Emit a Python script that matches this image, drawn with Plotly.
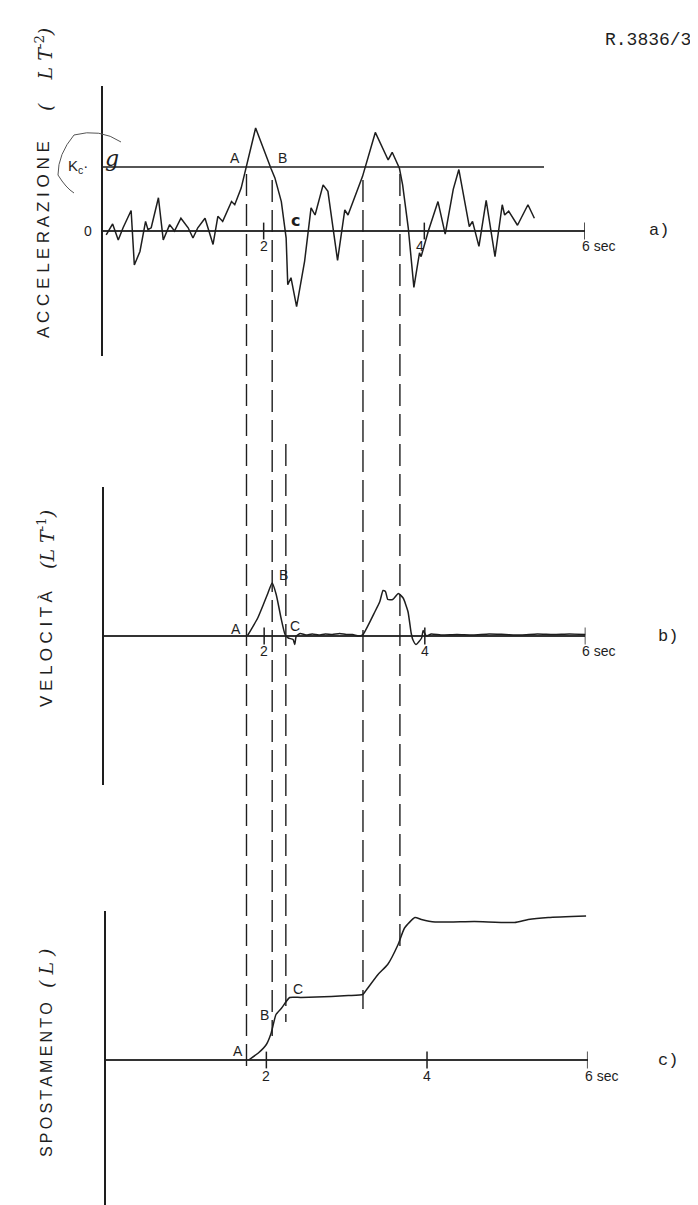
import plotly.graph_objects as go

W, H = 698, 1205

# ---------------- data ----------------
# a) acceleration (units of Kc*g)
t_acc = [0.04, 0.12, 0.19, 0.25, 0.35, 0.39, 0.46, 0.53, 0.56, 0.60,
         0.69, 0.75, 0.83, 0.89, 0.97, 1.06, 1.12, 1.18, 1.27, 1.37,
         1.43, 1.49, 1.60, 1.64, 1.72, 1.78, 1.90, 2.09, 2.14, 2.22,
         2.28, 2.30, 2.34, 2.41, 2.51, 2.59, 2.64, 2.74, 2.80, 2.92,
         3.01, 3.05, 3.13, 3.23, 3.39, 3.55, 3.60, 3.69, 3.73, 3.80,
         3.87, 3.94, 3.96, 4.05, 4.17, 4.26, 4.36, 4.43, 4.56, 4.60,
         4.68, 4.77, 4.88, 4.97, 5.00, 5.05, 5.16, 5.29, 5.37]
acc = [-0.06, 0.11, -0.14, 0.05, 0.32, -0.53, -0.32, 0.15, 0.02, 0.05,
       0.52, -0.14, 0.10, 0.00, 0.20, 0.05, -0.11, 0.05, 0.20, -0.21,
       0.23, 0.15, 0.46, 0.41, 0.67, 1.00, 1.61, 0.98, 0.83, 0.46,
       -0.11, -0.84, -0.73, -1.18, -0.47, 0.36, 0.25, 0.72, 0.62, -0.46,
       0.33, 0.25, 0.52, 0.85, 1.54, 1.11, 1.23, 0.98, 0.72, 0.05,
       -0.88, -0.34, -0.40, 0.00, 0.46, -0.05, 0.65, 0.96, 0.07, 0.15,
       -0.24, 0.48, -0.40, 0.41, 0.25, 0.31, 0.09, 0.41, 0.20]
kc_level = 1.0
kc_end = 5.49

# b) velocity
t_vel = [1.79, 1.92, 1.99, 2.04, 2.10, 2.15, 2.21, 2.26, 2.30, 2.36,
         2.38, 2.40, 2.45, 2.52, 2.60, 2.68, 2.76, 2.85, 2.94, 3.02,
         3.10, 3.18, 3.23, 3.38, 3.44, 3.48, 3.51, 3.54, 3.60, 3.67,
         3.73, 3.79, 3.83, 3.85, 3.89, 3.96, 3.98, 4.02, 4.08, 4.20,
         4.40, 4.60, 4.80, 5.00, 5.20, 5.40, 5.60, 5.80, 6.00]
vel = [0.00, 0.36, 0.63, 0.83, 1.06, 0.83, 0.36, 0.03, -0.04, -0.07,
       -0.17, 0.00, 0.05, 0.02, 0.04, 0.02, 0.04, 0.03, 0.05, 0.03,
       0.03, 0.00, 0.03, 0.49, 0.69, 0.91, 0.89, 0.73, 0.73, 0.85,
       0.76, 0.49, 0.06, -0.07, -0.17, -0.04, 0.11, 0.00, 0.04, 0.02,
       0.03, 0.02, 0.04, 0.03, 0.02, 0.04, 0.03, 0.04, 0.03]

# c) displacement
t_dis = [1.78, 1.90, 2.00, 2.06, 2.12, 2.19, 2.29, 2.43, 2.81, 3.02,
         3.20, 3.24, 3.39, 3.51, 3.64, 3.72, 3.85, 3.93, 4.10, 4.59,
         5.09, 5.26, 5.51, 5.98]
dis = [0.00, 0.14, 0.31, 0.54, 0.91, 1.04, 1.25, 1.25, 1.27, 1.29,
       1.31, 1.39, 1.71, 1.91, 2.31, 2.64, 2.85, 2.81, 2.76, 2.77,
       2.75, 2.81, 2.85, 2.88]

tick_vals = [2, 4, 6]
tick_text = ["2", "4", "6 sec"]
event_names = ["A", "B", "C", "A", "B"]
event_times = [1.78, 2.10, 2.27, 3.23, 3.69]

# ---------------- layout helpers ----------------
def px(x):
    return x / W

def py(y):
    return 1 - y / H

INK = "#1e1e1e"
fig = go.Figure()

panels = [
    # (xaxis, yaxis, left px, top px, bottom px, zero px, unit px)
    ("x", "y", 95.0, 78, 348, 223, 64.0),
    ("x2", "y2", 95.5, 479, 777, 628, 50.0),
    ("x3", "y3", 97.7, 903, 1200, 1052, 50.0),
]
series = [(t_acc, acc), (t_vel, vel), (t_dis, dis)]
shapes_lines = ["linear", "spline", "spline"]

pxs = 80.33  # pixels per second
for i, ((xa, ya, left, top, bot, zero, unit), (tt, vv)) in enumerate(zip(panels, series)):
    sfx = "" if i == 0 else str(i + 1)
    fig.add_trace(go.Scatter(x=tt, y=vv, xaxis=xa, yaxis=ya, mode="lines",
                             line=dict(color=INK, width=1.5, shape=shapes_lines[i],
                                       smoothing=0.5),
                             showlegend=False, hoverinfo="skip"))
    # tick marks on the time axis
    fig.add_trace(go.Scatter(x=tick_vals, y=[0] * len(tick_vals), xaxis=xa, yaxis=ya,
                             mode="markers",
                             marker=dict(symbol="line-ns", size=12,
                                         line=dict(color=INK, width=1.5)),
                             showlegend=False, hoverinfo="skip"))
    fig.layout["xaxis" + sfx] = dict(domain=[px(left), px(left + 6 * pxs)], range=[0, 6],
                                     visible=False, anchor=ya, fixedrange=True)
    fig.layout["yaxis" + sfx] = dict(domain=[py(bot), py(top)],
                                     range=[-(bot - zero) / unit, (zero - top) / unit],
                                     showline=True, linecolor=INK, linewidth=1.5,
                                     showticklabels=False, ticks="", showgrid=False,
                                     zeroline=True, zerolinecolor="#333", zerolinewidth=1.8,
                                     anchor=xa, fixedrange=True)
    # tick labels
    ylab = {0: 238, 1: 643, 2: 1068}[i]
    for tv, tl in zip(tick_vals, tick_text):
        is6 = tl.startswith("6")
        fig.add_annotation(x=tv, xref=xa, y=py(ylab), yref="paper", text=tl,
                           showarrow=False, xanchor="left" if is6 else "center",
                           yanchor="middle",
                           xshift=-5 if is6 else (-4 if (i == 0 and tv == 4) else 0),
                           font=dict(family="Liberation Sans", size=14, color=INK))

# Kc*g threshold line
fig.add_trace(go.Scatter(x=[0, kc_end], y=[kc_level, kc_level], xaxis="x", yaxis="y",
                         mode="lines", line=dict(color=INK, width=1.4),
                         showlegend=False, hoverinfo="skip"))

# dashed construction lines
dash_extent = [(166, 1066), (172, 1028), (436, 1014), (172, 1001), (166, 946)]
for tv, (y0, y1) in zip(event_times, dash_extent):
    fig.add_shape(type="line", xref="x2", yref="paper", x0=tv, x1=tv,
                  y0=py(y0), y1=py(y1), line=dict(color=INK, width=1.4, dash="22px,8px"))

# panel tags and other text
def txt(x, y, s, size=14, family="Liberation Sans", angle=0, **kw):
    fig.add_annotation(x=px(x), y=py(y), xref="paper", yref="paper", text=s,
                       showarrow=False, textangle=angle, xanchor="center", yanchor="middle",
                       font=dict(family=family, size=size, color=INK), **kw)

# point labels A B C in each panel
label_pos = [
    [(227, 150), (274, 150), (287, 212)],
    [(228, 621), (275, 567), (287, 618)],
    [(230, 1043), (256, 1007), (290, 981)],
]
for pi, row in enumerate(label_pos):
    for name, (lx, ly) in zip(["A", "B", "C"], row):
        if pi == 0 and name == "C":
            txt(lx, ly, "<b>c</b>", size=16, family="DejaVu Sans")
        else:
            txt(lx, ly, name, size=14)

txt(640, 32, "R.3836/3", size=18, family="Liberation Mono")
txt(651, 222, "a)", size=17, family="Liberation Mono")
txt(660, 628, "b)", size=17, family="Liberation Mono")
txt(660, 1052, "c)", size=17, family="Liberation Mono")
txt(80, 223, "0", size=14)
txt(70, 159, "K<sub>c</sub>·", size=15)
txt(104, 150, "<i>g</i>", size=22, family="DejaVu Serif")

THIN = "\u2009"
txt(36, 232, " ".join("ACCELERAZIONE"), size=17, angle=-90)
txt(36, 62, "<i>(    L T</i><sup>-2</sup><i>)</i>", size=19, family="DejaVu Serif", angle=-90)
txt(38, 641, " ".join("VELOCITÀ"), size=17, angle=-90)
txt(38, 532, "<i>(L T</i><sup>-1</sup><i>)</i>", size=19, family="DejaVu Serif", angle=-90)
txt(38, 1072, THIN.join("SPOSTAMENTO"), size=16, angle=-90)
txt(38, 960, "<i>( L )</i>", size=19, family="DejaVu Serif", angle=-90)

# hand-drawn circle around Kc*g
pts = [(113, 134), (92, 120), (66, 127), (50, 146), (50, 167), (58, 180), (66, 185)]
path = "M {:.5f},{:.5f}".format(px(pts[0][0]), py(pts[0][1]))
for (x1, y1), (x2, y2) in zip(pts[1::2], pts[2::2]):
    path += " Q {:.5f},{:.5f} {:.5f},{:.5f}".format(px(x1), py(y1), px(x2), py(y2))
fig.add_shape(type="path", xref="paper", yref="paper", path=path,
              line=dict(color="#555", width=1.0))

fig.update_layout(width=W, height=H, margin=dict(l=0, r=0, t=0, b=0),
                  paper_bgcolor="white", plot_bgcolor="white", showlegend=False)

fig.write_html("out.html")
